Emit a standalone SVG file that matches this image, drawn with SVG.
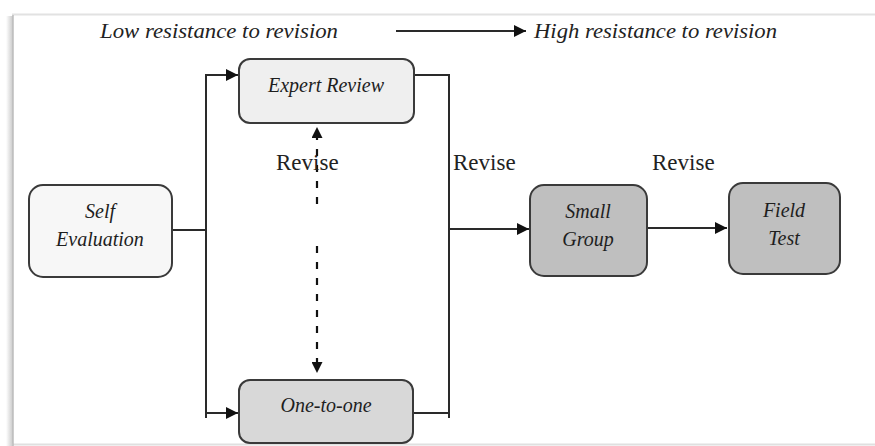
<svg xmlns="http://www.w3.org/2000/svg" width="875" height="446" viewBox="0 0 875 446">
<style>
.box{stroke:#3a3a3a;stroke-width:2}
.lbl{font-family:"Liberation Serif","Times New Roman",serif;font-style:italic;font-size:20px;fill:#1e1e1e;text-anchor:middle}
.rev{font-family:"Liberation Serif","Times New Roman",serif;font-size:23px;fill:#222}
.top{font-family:"Liberation Serif","Times New Roman",serif;font-style:italic;font-size:22px;fill:#222}
.ln{stroke:#2a2a2a;stroke-width:2;fill:none}
.dash{stroke:#111;stroke-width:2.2;fill:none;stroke-dasharray:7 9}
</style>
<defs>
<marker id="ah" viewBox="0 0 10 10" refX="10" refY="5" markerWidth="6" markerHeight="6" orient="auto" markerUnits="strokeWidth">
<path d="M0,0 L10,5 L0,10 z" fill="#111"/>
</marker>
<marker id="ahd" viewBox="0 0 10 10" refX="10" refY="5" markerWidth="5" markerHeight="5" orient="auto" markerUnits="strokeWidth">
<path d="M0,0 L10,5 L0,10 z" fill="#111"/>
</marker>
<linearGradient id="sh" x1="0" x2="1" y1="0" y2="0">
<stop offset="0" stop-color="#fff"/>
<stop offset="1" stop-color="#c8c8c8"/>
</linearGradient>
</defs>
<rect width="875" height="446" fill="#fff"/>
<g id="frame">
<rect x="6" y="16" width="7" height="430" fill="url(#sh)"/>
<line x1="12" y1="14.5" x2="875" y2="14.5" stroke="#e2e2e2" stroke-width="2"/>
<line x1="12" y1="444.5" x2="875" y2="444.5" stroke="#e0e0e0" stroke-width="2"/>
<line x1="13" y1="15" x2="13" y2="446" stroke="#bdbdbd" stroke-width="1.5"/>
</g>
<g id="header">
<text class="top" x="100" y="38" textLength="238" lengthAdjust="spacingAndGlyphs">Low resistance to revision</text>
<line class="ln" x1="396" y1="31" x2="526" y2="31" marker-end="url(#ah)"/>
<text class="top" x="534" y="38" textLength="243" lengthAdjust="spacingAndGlyphs">High resistance to revision</text>
</g>
<g id="connectors">
<polyline class="ln" points="172,230 206,230"/>
<line class="ln" x1="206" y1="74" x2="206" y2="418"/>
<line class="ln" x1="205" y1="75" x2="238" y2="75" marker-end="url(#ah)"/>
<line class="ln" x1="205" y1="413" x2="238" y2="413" marker-end="url(#ah)"/>
<polyline class="ln" points="414,75 449,75 449,418"/>
<line class="ln" x1="413" y1="413" x2="449" y2="413"/>
<line class="ln" x1="449" y1="229" x2="529" y2="229" marker-end="url(#ah)"/>
<line class="ln" x1="647" y1="228" x2="727" y2="228" marker-end="url(#ah)"/>
<line class="dash" x1="317" y1="204" x2="317" y2="127" marker-end="url(#ahd)"/>
<line class="dash" x1="317" y1="246" x2="317" y2="373" marker-end="url(#ahd)"/>
</g>
<g id="labels">
<text class="rev" x="276" y="170">Revise</text>
<text class="rev" x="453" y="170">Revise</text>
<text class="rev" x="652" y="170">Revise</text>
</g>
<g id="self-evaluation">
<rect class="box" x="29" y="185" width="143" height="92" rx="14" fill="#f7f7f7"/>
<text class="lbl" x="100" y="218">Self</text>
<text class="lbl" x="100" y="246">Evaluation</text>
</g>
<g id="expert-review">
<rect class="box" x="239" y="59" width="175" height="64" rx="11" fill="#efefef"/>
<text class="lbl" x="326" y="92">Expert Review</text>
</g>
<g id="one-to-one">
<rect class="box" x="239" y="380" width="174" height="63" rx="11" fill="#d8d8d8"/>
<text class="lbl" x="326" y="412">One-to-one</text>
</g>
<g id="small-group">
<rect class="box" x="530" y="185" width="117" height="91" rx="14" fill="#bfbfbf"/>
<text class="lbl" x="588" y="218">Small</text>
<text class="lbl" x="588" y="246">Group</text>
</g>
<g id="field-test">
<rect class="box" x="729" y="183" width="111" height="91" rx="14" fill="#bfbfbf"/>
<text class="lbl" x="784" y="217">Field</text>
<text class="lbl" x="784" y="245">Test</text>
</g>
</svg>
